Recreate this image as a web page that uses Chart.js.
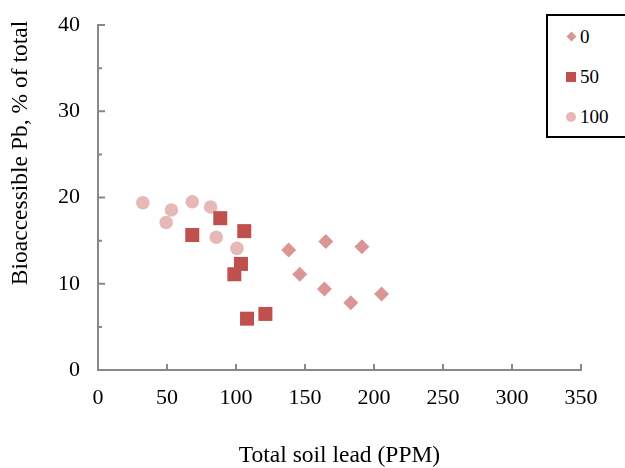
<!DOCTYPE html>
<html>
<head>
<meta charset="utf-8">
<script src="https://cdn.jsdelivr.net/npm/chart.js@4"></script>
<style>
  html, body { margin: 0; padding: 0; background: #fff; }
  #wrap { position: relative; width: 625px; height: 468px; }
  #legend { position: absolute; left: 546px; top: 14px; width: 90px; height: 120px; border: 2px solid #000; background: #fff; font-family: 'Liberation Serif', serif; font-size: 19px; color: #000; }
  .item { position: absolute; left: 0; height: 20px; line-height: 20px; }
  .mk { position: absolute; }
  .lbl { position: absolute; left: 32px; top: 0; white-space: nowrap; }
</style>
</head>
<body>
<div id="wrap">
  <canvas id="c" width="625" height="468"></canvas>
  <div id="legend"></div>
</div>
<script>
// ---- data ----
const seriesNames = ['0', '50', '100'];
const x0 = [138.2, 165.1, 191.2, 146.2, 164.1, 183.2, 205.5];
const y0 = [13.9, 14.9, 14.3, 11.1, 9.4, 7.8, 8.8];
const x50 = [88.6, 106.0, 68.3, 103.6, 98.8, 108.0, 121.3];
const y50 = [17.6, 16.1, 15.65, 12.3, 11.1, 5.95, 6.5];
const x100 = [32.5, 53.2, 49.4, 68.3, 81.6, 85.7, 100.7];
const y100 = [19.4, 18.55, 17.1, 19.5, 18.9, 15.4, 14.1];
const xTicks = [0, 50, 100, 150, 200, 250, 300, 350];
const yTicks = [0, 10, 20, 30, 40];
const yMinorTicks = [5, 15, 25, 35];
const xTitle = 'Total soil lead (PPM)';
const yTitle = 'Bioaccessible Pb, % of total';

const colors = ['#D99694', '#C0504D', '#E6B9B8'];
const styles = ['rectRot', 'rect', 'circle'];
const radii = [7.5, 9.9, 6.8];

function pts(xs, ys) { return xs.map((v, i) => ({ x: v, y: ys[i] })); }
const dataSets = [pts(x0, y0), pts(x50, y50), pts(x100, y100)];

const FONT = "'Liberation Serif', 'Times New Roman', serif";

const customDraw = {
  id: 'customDraw',
  afterDraw(chart) {
    const { ctx, scales: { x, y }, chartArea } = chart;
    ctx.save();
    ctx.strokeStyle = '#888';
    ctx.lineWidth = 2;
    ctx.beginPath();
    yTicks.forEach(v => { const p = y.getPixelForValue(v); ctx.moveTo(chartArea.left, p); ctx.lineTo(chartArea.left + 7, p); });
    yMinorTicks.forEach(v => { const p = y.getPixelForValue(v); ctx.moveTo(chartArea.left, p); ctx.lineTo(chartArea.left + 4, p); });
    xTicks.forEach(v => { const p = x.getPixelForValue(v); ctx.moveTo(p, chartArea.bottom); ctx.lineTo(p, chartArea.bottom - 6); });
    ctx.stroke();
    ctx.fillStyle = '#000';
    ctx.font = '23.5px ' + FONT;
    ctx.textAlign = 'center';
    ctx.textBaseline = 'middle';
    ctx.fillText(xTitle, (chartArea.left + chartArea.right) / 2, 456);
    ctx.translate(21, 153);
    ctx.rotate(-Math.PI / 2);
    ctx.fillText(yTitle, 0, 0);
    ctx.restore();
  }
};

new Chart(document.getElementById('c'), {
  type: 'scatter',
  data: {
    datasets: seriesNames.map((n, i) => ({
      label: n,
      data: dataSets[i],
      pointStyle: styles[i],
      pointRadius: radii[i],
      backgroundColor: colors[i],
      borderColor: colors[i],
      borderWidth: 0
    }))
  },
  options: {
    responsive: false,
    animation: false,
    events: [],
    layout: { padding: { top: 25, right: 44, left: 0, bottom: 0 } },
    plugins: { legend: { display: false }, tooltip: { enabled: false } },
    scales: {
      x: {
        type: 'linear', min: 0, max: 350,
        afterBuildTicks: s => { s.ticks = xTicks.map(v => ({ value: v })); },
        afterFit: s => { s.height = 98; s.paddingLeft = 0; s.paddingRight = 0; },
        grid: { display: false, drawTicks: false },
        border: { display: true, color: '#888', width: 2 },
        ticks: { color: '#000', font: { family: FONT, size: 22 }, padding: 15, maxRotation: 0 }
      },
      y: {
        type: 'linear', min: 0, max: 40,
        afterBuildTicks: s => { s.ticks = yTicks.map(v => ({ value: v })); },
        afterFit: s => { s.width = 98; s.paddingTop = 0; s.paddingBottom = 0; },
        grid: { display: false, drawTicks: false },
        border: { display: true, color: '#888', width: 2 },
        ticks: { color: '#000', font: { family: FONT, size: 22 }, padding: 18 }
      }
    }
  },
  plugins: [customDraw]
});

// HTML legend
const leg = document.getElementById('legend');
const legTops = [11, 51, 91];
const mkHtml = [
  '<div class="mk" style="left:20px;top:6px;width:7px;height:7px;background:' + colors[0] + ';transform:rotate(45deg)"></div>',
  '<div class="mk" style="left:18px;top:5px;width:10px;height:10px;background:' + colors[1] + '"></div>',
  '<div class="mk" style="left:18px;top:5px;width:10px;height:10px;border-radius:50%;background:' + colors[2] + '"></div>'
];
seriesNames.forEach((n, i) => {
  const d = document.createElement('div');
  d.className = 'item';
  d.style.top = legTops[i] + 'px';
  d.style.width = '90px';
  d.innerHTML = mkHtml[i] + '<span class="lbl">' + n + '</span>';
  leg.appendChild(d);
});
</script>
</body>
</html>
